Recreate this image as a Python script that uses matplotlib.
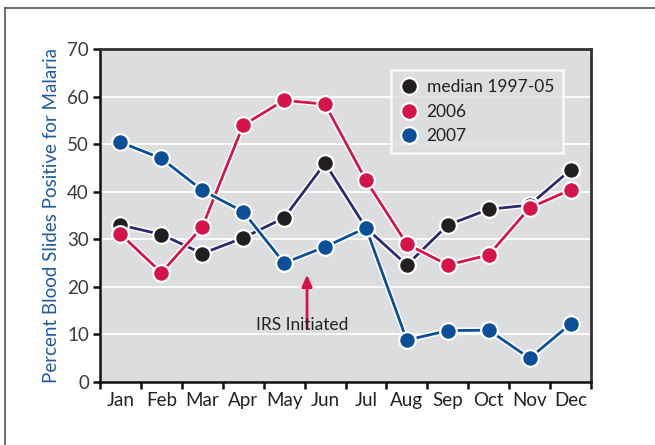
import matplotlib
matplotlib.use("Agg")
import matplotlib.pyplot as plt
import matplotlib.patheffects as pe
from matplotlib.lines import Line2D
import numpy as np

months = ["Jan", "Feb", "Mar", "Apr", "May", "Jun", "Jul", "Aug", "Sep", "Oct", "Nov", "Dec"]
median_9705 = [33, 31, 27, 30.3, 34.5, 46, 32.4, 24.6, 33, 36.3, 37.2, 44.6]
y2006 = [31.1, 23, 32.6, 54, 59.2, 58.4, 42.4, 29, 24.6, 26.7, 36.6, 40.4]
y2007 = [50.4, 47, 40.3, 35.8, 25, 28.4, 32.4, 8.8, 10.8, 10.9, 5, 12.2]
series_labels = ["median 1997-05", "2006", "2007"]
yticks = [0, 10, 20, 30, 40, 50, 60, 70]

plt.rcParams['font.family'] = ['Lato', 'DejaVu Sans']

fig = plt.figure(figsize=(6.55, 4.45), dpi=100)
ax = fig.add_axes([100/655, 1-382/445, 491/655, 333/445])

bg = "#dcdddf"
ax.set_facecolor(bg)
x = np.arange(len(months))
ax.set_xlim(-0.5, 11.5)
ax.set_ylim(0, 70)

for v in yticks[1:-1]:
    ax.axhline(v, color="white", lw=1.3, zorder=1)

navy = "#2b2a6e"
blk = "#231f20"
red = "#d5154a"
blue = "#0b4f98"
outline = [pe.Stroke(linewidth=4.2, foreground="white"), pe.Normal()]

def draw(vals, lc, mc, z):
    ax.plot(x, vals, color=lc, lw=2, zorder=z, path_effects=outline, solid_capstyle='round')
    ax.plot(x, vals, ls='none', marker='o', ms=12, mfc=mc, mec="white", mew=1.6, zorder=z + 0.5)

draw(median_9705, navy, blk, 3)
draw(y2006, red, red, 4)
draw(y2007, blue, blue, 5)

for s in ["top", "right"]:
    ax.spines[s].set_color("#333333")
    ax.spines[s].set_linewidth(2)
ax.spines["left"].set_color("#111111")
ax.spines["left"].set_linewidth(1.8)
ax.spines["bottom"].set_color("#111111")
ax.spines["bottom"].set_linewidth(1.8)

ax.set_yticks(yticks)
ax.set_yticklabels([str(v) for v in yticks], fontsize=13.5, color="#3a3a3a")
ax.tick_params(axis='y', direction='out', length=5, width=1.8, color="#111111", pad=3)

ax.set_xticks(np.arange(-0.5, 12, 1), minor=True)
ax.set_xticks(x)
ax.set_xticklabels(months, fontsize=13.5, color="#222222")
ax.tick_params(axis='x', which='major', length=0, pad=7)
ax.tick_params(axis='x', which='minor', direction='out', length=5, width=1.8, color="#111111")

ax.set_ylabel("Percent Blood Slides Positive for Malaria", fontsize=13.5, color="#1f5a9e", labelpad=5)

ax.annotate("", xy=(4.56, 22.6), xytext=(4.56, 11.2),
            arrowprops=dict(arrowstyle="-|>,head_length=0.7,head_width=0.3", color=red, lw=2,
                            shrinkA=0, shrinkB=0), zorder=6)
ax.text(4.45, 12.0, "IRS Initiated", ha="center", va="center", fontsize=12.5, color="#222222", zorder=6)

handles = [Line2D([], [], ls='none', marker='o', ms=12, mfc=c, mec="white", mew=1.6)
           for c in (blk, red, blue)]
leg = ax.legend(handles, series_labels, loc="upper right", bbox_to_anchor=(0.96, 0.962),
                frameon=True, fontsize=12.5, handletextpad=0.45, borderpad=0.5, labelspacing=0.5,
                handlelength=1.1, fancybox=False)
leg.get_frame().set_facecolor(bg)
leg.get_frame().set_edgecolor("white")
leg.get_frame().set_linewidth(1.8)
for t in leg.get_texts():
    t.set_color("#222222")
leg.set_zorder(7)

fig.add_artist(Line2D([5/655, 1.0], [1-8/445, 1-8/445], transform=fig.transFigure, color="#555555", lw=1.2))
fig.add_artist(Line2D([5/655, 5/655], [0, 1-8/445], transform=fig.transFigure, color="#555555", lw=1.2))

fig.savefig("out.png", dpi=100)
